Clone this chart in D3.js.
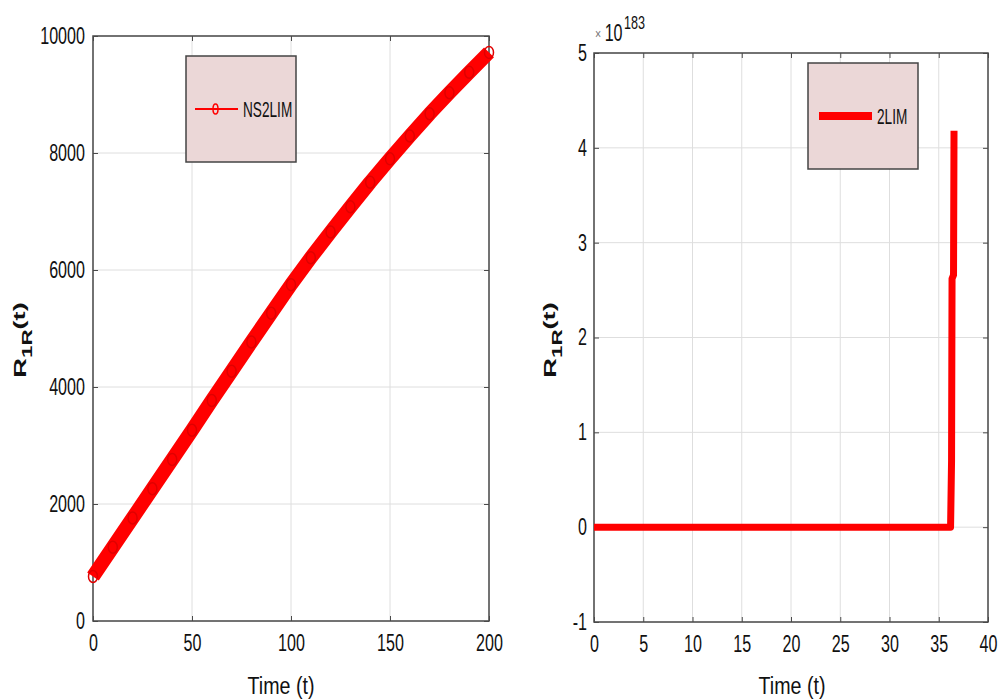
<!doctype html>
<html lang="en">
<head>
  <meta charset="utf-8">
  <title>R1R(t)</title>
  <style type="text/css">
    body{ margin:0; background:#fff; }
    text{
      font-family: "Liberation Sans", Arial, sans-serif;
      fill:#111;
    }
    .grid line{ stroke:#dedede; stroke-width:1; }
    .frame{ fill:none; stroke:#4a4a4a; stroke-width:1.5; }
  </style>
</head>
<body>
  <div id="vis"></div>
  <script src="https://cdn.jsdelivr.net/npm/d3@7/dist/d3.min.js"></script>
  <script type="text/javascript">

    // left panel: NS2LIM
    var leftT = [0,10,20,30,40,50,60,70,80,90,100,110,120,130,140,150,160,170,180,190,200];
    var leftR = [760,1260,1760,2260,2760,3260,3770,4270,4770,5260,5750,6210,6650,7080,7500,7900,8290,8670,9030,9380,9720];
    var leftXTicks = [0,50,100,150,200];
    var leftYTicks = [0,2000,4000,6000,8000,10000];

    // right panel: 2LIM (values in units of 1e183)
    var rightT = [0,36.2,36.3,36.35,36.5,36.55];
    var rightR = [0,0,0.7,2.62,2.66,4.18];
    var rightXTicks = [0,5,10,15,20,25,30,35,40];
    var rightYTicks = [-1,0,1,2,3,4,5];

    var width = 999, height = 699;
    var svg = d3.select('#vis').append('svg').attr('width',width).attr('height',height);

    // the reference uses a tall narrow face, so squeeze text horizontally
    var SQ = 0.7;

    function panel(o){
      var x = d3.scaleLinear().domain(o.xdom).range([o.x0,o.x1]);
      var y = d3.scaleLinear().domain(o.ydom).range([o.y1,o.y0]);
      var g = svg.append('g');
      var fmt = function(d){ return String(d); };

      var grid = g.append('g').attr('class','grid');
      grid.selectAll('.gx').data(o.xticks).enter().append('line')
        .attr('x1',function(d){return x(d);}).attr('x2',function(d){return x(d);})
        .attr('y1',o.y0).attr('y2',o.y1);
      grid.selectAll('.gy').data(o.yticks).enter().append('line')
        .attr('y1',function(d){return y(d);}).attr('y2',function(d){return y(d);})
        .attr('x1',o.x0).attr('x2',o.x1);

      // axes with inward ticks on all four sides
      var ax = [
        {a:d3.axisBottom(x).tickValues(o.xticks).tickSize(-5).tickPadding(14).tickFormat(fmt), t:'translate(0,'+o.y1+')'},
        {a:d3.axisTop(x).tickValues(o.xticks).tickSize(-5).tickFormat(''), t:'translate(0,'+o.y0+')'},
        {a:d3.axisLeft(y).tickValues(o.yticks).tickSize(-5).tickPadding(o.ypad).tickFormat(fmt), t:'translate('+o.x0+',0)'},
        {a:d3.axisRight(y).tickValues(o.yticks).tickSize(-5).tickFormat(''), t:'translate('+o.x1+',0)'}
      ];
      ax.forEach(function(a){
        var ag = g.append('g').attr('transform',a.t).call(a.a);
        ag.select('.domain').remove();
        ag.selectAll('line').style('stroke','#4a4a4a');
        ag.selectAll('text').style('font-size','23px').style('fill','#111')
          .style('font-family','"Liberation Sans", Arial, sans-serif')
          .attr('transform','scale('+SQ+',1)');
      });

      g.append('rect').attr('class','frame')
        .attr('x',o.x0).attr('y',o.y0).attr('width',o.x1-o.x0).attr('height',o.y1-o.y0);

      var line = d3.line().x(function(d){return x(d[0]);}).y(function(d){return y(d[1]);});
      var pts = o.t.map(function(t,i){return [t,o.r[i]];});
      g.append('path').attr('d',line(pts))
        .style('fill','none').style('stroke','#ff0000')
        .style('stroke-width',o.lw).style('stroke-linejoin','round');
      if(o.markers){
        g.selectAll('.mk').data(pts).enter().append('ellipse')
          .attr('cx',function(d){return x(d[0]);}).attr('cy',function(d){return y(d[1]);})
          .attr('rx',4.5).attr('ry',6)
          .style('fill','none').style('stroke','#e00000').style('stroke-width',1.5);
      }

      // x label
      g.append('text').attr('transform','translate('+o.xlx+',694) scale(0.82,1)')
        .attr('text-anchor','middle').style('font-size','24px').text('Time (t)');

      // y label R_1R(t)
      var yl = g.append('text')
        .attr('transform','translate('+o.ylx+',340) rotate(-90) scale(1.6,1)')
        .attr('text-anchor','middle').style('font-weight','bold').style('font-size','17px');
      yl.append('tspan').text('R');
      yl.append('tspan').attr('dy',6).style('font-size','14px').text('1R');
      yl.append('tspan').attr('dy',-7).text('(t)');

      // legend
      var lg = g.append('g');
      lg.append('rect').attr('x',o.lx).attr('y',o.ly).attr('width',110).attr('height',106)
        .style('fill','#ebd7d7').style('stroke','#444').style('stroke-width',1.5);
      var my = o.ly + 53;
      lg.append('line').attr('x1',o.lx+o.ll[0]).attr('x2',o.lx+o.ll[1]).attr('y1',my).attr('y2',my)
        .style('stroke','#ff0000').style('stroke-width',o.legLw);
      if(o.markers){
        lg.append('ellipse').attr('cx',o.lx+(o.ll[0]+o.ll[1])/2 - 1).attr('cy',my)
          .attr('rx',2.5).attr('ry',5).style('fill','none').style('stroke','#ff0000').style('stroke-width',1.5);
      }
      lg.append('text').attr('transform','translate('+(o.lx+o.ll[1]+5)+','+(my+8)+') scale(0.62,1)')
        .style('font-size','22px').text(o.name);

      return {x:x,y:y};
    }

    panel({t:leftT, r:leftR, xdom:[0,200], ydom:[0,10000], xticks:leftXTicks, yticks:leftYTicks,
      x0:93, x1:489, y0:36, y1:621, lw:14, markers:true, ylx:26, xlx:281, ypad:11.5,
      lx:186, ly:56, ll:[9,52], legLw:2, name:'NS2LIM'});

    panel({t:rightT, r:rightR, xdom:[0,40], ydom:[-1,5], xticks:rightXTicks, yticks:rightYTicks,
      x0:594, x1:988, y0:53, y1:622, lw:7, markers:false, ylx:556, xlx:792, ypad:10,
      lx:808, ly:63, ll:[11,64], legLw:8, name:'2LIM'});

    // exponent label
    var ex = svg.append('text').attr('transform','translate(595,41) scale(0.7,1)').style('font-size','23px');
    ex.append('tspan').attr('dy',-2).style('font-size','15px').style('fill','#777').text('\u00d7');
    ex.append('tspan').attr('dx',5).attr('dy',2).text('10');
    ex.append('tspan').attr('dx',2).attr('dy',-12).style('font-size','18px').text('183');

  </script>
</body>
</html>
